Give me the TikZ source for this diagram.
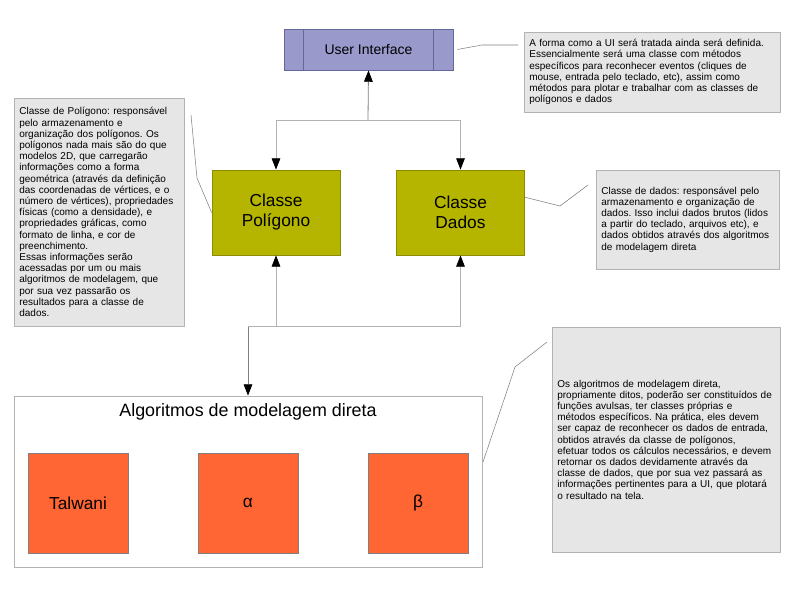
\documentclass[tikz,border=0pt]{standalone}
\usepackage{fontspec}
\setmainfont{Liberation Sans}
\frenchspacing
\hyphenpenalty=10000
\usetikzlibrary{arrows.meta}

\definecolor{uililas}{RGB}{153,153,204}
\definecolor{uiborda}{RGB}{102,102,153}
\definecolor{oliva}{RGB}{181,181,0}
\definecolor{olivaborda}{RGB}{140,140,0}
\definecolor{laranja}{RGB}{255,102,51}
\definecolor{notafundo}{RGB}{230,230,230}
\definecolor{cinzaclaro}{RGB}{179,179,179}
\definecolor{cinzaescuro}{RGB}{128,128,128}

\tikzset{
    classe/.style={draw=olivaborda, fill=oliva, line width=0.6pt, align=center,
        minimum width=96pt, minimum height=63.75pt, inner sep=0pt,
        font=\fontsize{13}{15}\selectfont},
    algo/.style={draw=cinzaescuro, fill=laranja, line width=0.5pt,
        minimum width=75pt, minimum height=75pt, inner sep=0pt,
        font=\fontsize{13}{15}\selectfont},
    nota/.style={draw=cinzaclaro, fill=notafundo, line width=0.6pt, align=left,
        inner xsep=4pt, inner ysep=0pt, font=\fontsize{7.5}{8.4}\selectfont},
    ligacao/.style={draw=cinzaclaro, line width=0.6pt,
        -{Triangle[length=8.5pt, width=6.5pt, color=black]}},
    ligescura/.style={ligacao, draw=cinzaescuro},
    chamada/.style={draw=cinzaescuro, line width=0.4pt}
}

\begin{document}
\begin{tikzpicture}[x=0.75pt, y=-0.75pt]

    \useasboundingbox[fill=white] (0,0) rectangle (794,595);

    % -- Interface com o usuario --
    \node[draw=uiborda, fill=uililas, line width=0.6pt, minimum width=126.75pt,
        minimum height=30.75pt, inner sep=0pt, font=\fontsize{10.5}{12}\selectfont]
        (ui) at (368.5,49.5) {User Interface};
    \draw[uiborda, line width=0.5pt] (303,29) -- (303,70);
    \draw[uiborda, line width=0.5pt] (433,29) -- (433,70);

    % -- Classes --
    \node[classe] (poly) at (276,212.5) {Classe\\Polígono};
    \node[classe] (dados) at (460.5,212.5) {Classe\\Dados};

    % -- Bloco dos algoritmos --
    \node[draw=cinzaclaro, line width=0.6pt, minimum width=351pt, minimum height=128.25pt,
        inner sep=0pt] (alg) at (248,481.5) {};
    \node[font=\fontsize{13.4}{15}\selectfont] (algtitulo) at (248,412)
        {Algoritmos de modelagem direta};
    \node[algo] (talwani) at (78,503) {Talwani};
    \node[algo] (alfa) at (248,503) {α};
    \node[algo] (beta) at (418,503) {β};

    % -- Ligacoes entre os blocos --
    \coordinate (topo) at (368,120);
    \draw[ligescura] (topo) -- (ui.south);
    \draw[ligacao] (topo) -| (poly.north);
    \draw[ligacao] (topo) -| (dados.north);

    \coordinate (base) at (248,326);
    \draw[ligescura] (base) -- (alg.north);
    \draw[ligacao] (base) -| (poly.south);
    \draw[ligacao] (base) -| (dados.south);

    % -- Notas --
    \node[nota, text width=184pt, minimum height=60pt] (notaui) at (652,72)
        {A forma como a UI será tratada ainda será definida.\\
         Essencialmente será uma classe com métodos\\
         específicos para reconhecer eventos (cliques de\\
         mouse, entrada pelo teclado, etc), assim como\\
         métodos para plotar e trabalhar com as classes de\\
         polígonos e dados};

    \node[nota, text width=119.5pt, minimum height=171pt] (notapoly) at (99,212)
        {Classe de Polígono: responsável\\
         pelo armazenamento e\\
         organização dos polígonos. Os\\
         polígonos nada mais são do que\\
         modelos 2D, que carregarão\\
         informações como a forma\\
         geométrica (através da definição\\
         das coordenadas de vértices, e o\\
         número de vértices), propriedades\\
         físicas (como a densidade), e\\
         propriedades gráficas, como\\
         formato de linha, e cor de\\
         preenchimento.\\
         Essas informações serão\\
         acessadas por um ou mais\\
         algoritmos de modelagem, que\\
         por sua vez passarão os\\
         resultados para a classe de\\
         dados.};

    \node[nota, text width=129.25pt, minimum height=74.25pt] (notadados) at (687.5,219.5)
        {Classe de dados: responsável pelo\\
         armazenamento e organização de\\
         dados. Isso inclui dados brutos (lidos\\
         a partir do teclado, arquivos etc), e\\
         dados obtidos através dos algoritmos\\
         de modelagem direta};

    \node[nota, text width=163pt, minimum height=168.75pt] (notaalg) at (666,439.5)
        {Os algoritmos de modelagem direta,\\
         propriamente ditos, poderão ser constituídos de\\
         funções avulsas, ter classes próprias e\\
         métodos específicos. Na prática, eles devem\\
         ser capaz de reconhecer os dados de entrada,\\
         obtidos através da classe de polígonos,\\
         efetuar todos os cálculos necessários, e devem\\
         retornar os dados devidamente através da\\
         classe de dados, que por sua vez passará as\\
         informações pertinentes para a UI, que plotará\\
         o resultado na tela.};

    % -- Linhas de chamada das notas --
    \draw[chamada] ([xshift=3pt]ui.east) -- (482,45) -- (518,45);
    \draw[chamada] (poly.west) -- (197,178) -- (191,115);
    \draw[chamada] (524,197) -- (560,206) -- (588,185);
    \draw[chamada] (483,462) -- (515,367) -- (547,342);
\end{tikzpicture}
\end{document}
